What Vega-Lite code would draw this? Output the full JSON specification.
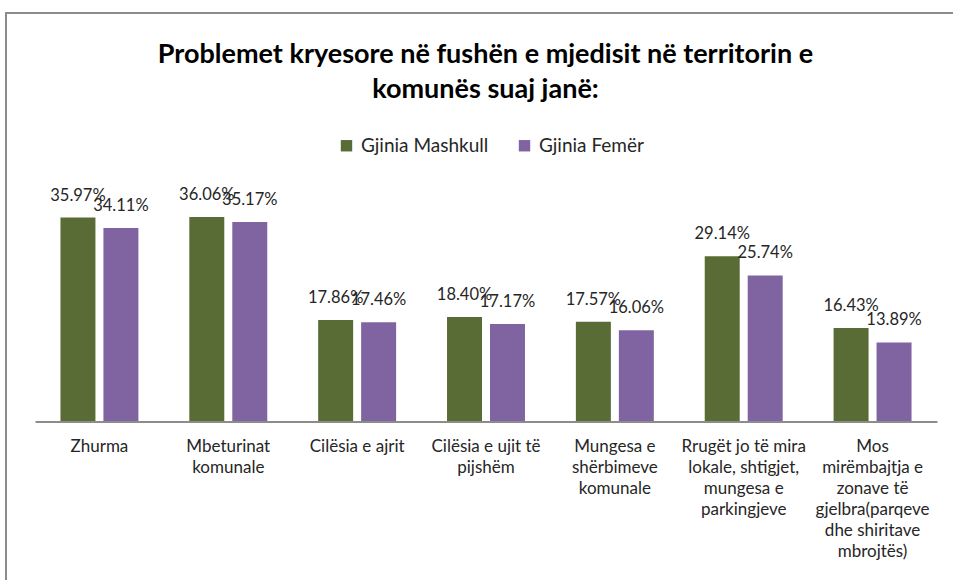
{
  "$schema": "https://vega.github.io/schema/vega-lite/v6.json",
  "autosize": {"type": "none"},
  "width": 951,
  "height": 571,
  "padding": {"left": 6, "top": 13, "right": -4, "bottom": -4},
  "background": "#ffffff",
  "title": {
    "text": ["Problemet kryesore në fushën e mjedisit në territorin e", "komunës suaj janë:"],
    "font": "Lato",
    "fontSize": 27,
    "fontWeight": "bold",
    "color": "#000000",
    "lineHeight": 35,
    "anchor": "middle",
    "offset": -91,
    "dx": 4
  },
  "data": {
    "values": [
      {"cat": "Zhurma", "gender": "Gjinia Mashkull", "value": 0.3597},
      {"cat": "Zhurma", "gender": "Gjinia Femër", "value": 0.3411},
      {"cat": "Mbeturinat\nkomunale", "gender": "Gjinia Mashkull", "value": 0.3606},
      {"cat": "Mbeturinat\nkomunale", "gender": "Gjinia Femër", "value": 0.3517},
      {"cat": "Cilësia e ajrit", "gender": "Gjinia Mashkull", "value": 0.1786},
      {"cat": "Cilësia e ajrit", "gender": "Gjinia Femër", "value": 0.1746},
      {"cat": "Cilësia e ujit të\npijshëm", "gender": "Gjinia Mashkull", "value": 0.1840},
      {"cat": "Cilësia e ujit të\npijshëm", "gender": "Gjinia Femër", "value": 0.1717},
      {"cat": "Mungesa e\nshërbimeve\nkomunale", "gender": "Gjinia Mashkull", "value": 0.1757},
      {"cat": "Mungesa e\nshërbimeve\nkomunale", "gender": "Gjinia Femër", "value": 0.1606},
      {"cat": "Rrugët jo të mira\nlokale, shtigjet,\nmungesa e\nparkingjeve", "gender": "Gjinia Mashkull", "value": 0.2914},
      {"cat": "Rrugët jo të mira\nlokale, shtigjet,\nmungesa e\nparkingjeve", "gender": "Gjinia Femër", "value": 0.2574},
      {"cat": "Mos\nmirëmbajtja e\nzonave të\ngjelbra(parqeve\ndhe shiritave\nmbrojtës)", "gender": "Gjinia Mashkull", "value": 0.1643},
      {"cat": "Mos\nmirëmbajtja e\nzonave të\ngjelbra(parqeve\ndhe shiritave\nmbrojtës)", "gender": "Gjinia Femër", "value": 0.1389}
    ]
  },
  "encoding": {
    "x": {
      "field": "cat",
      "type": "nominal",
      "sort": null,
      "scale": {"type": "band", "range": [29, 931], "paddingInner": 0.395, "paddingOuter": 0.1975},
      "axis": {
        "title": null,
        "orient": "bottom",
        "offset": -162.5,
        "labelExpr": "split(datum.value, '\\n')",
        "labelAngle": 0,
        "labelFont": "Lato",
        "labelFontSize": 17,
        "labelColor": "#262626",
        "labelLineHeight": 21,
        "labelBaseline": "top",
        "labelPadding": 17,
        "labelLimit": 0,
        "labelOverlap": false,
        "labelBound": false,
        "ticks": false,
        "grid": false,
        "domainColor": "#8c8c8c",
        "domainWidth": 2
      }
    },
    "xOffset": {
      "field": "gender",
      "type": "nominal",
      "sort": ["Gjinia Mashkull", "Gjinia Femër"],
      "scale": {"paddingInner": 0.186, "paddingOuter": 0}
    },
    "y": {
      "field": "value",
      "type": "quantitative",
      "scale": {"domain": [0, 0.7215], "range": [408, 0], "nice": false, "zero": true},
      "axis": null
    }
  },
  "layer": [
    {
      "mark": {"type": "bar"},
      "encoding": {
        "color": {
          "field": "gender",
          "type": "nominal",
          "sort": ["Gjinia Mashkull", "Gjinia Femër"],
          "scale": {"domain": ["Gjinia Mashkull", "Gjinia Femër"], "range": ["#5a6c35", "#8064a2"]},
          "legend": {
            "title": null,
            "orient": "none",
            "direction": "horizontal",
            "legendX": 331,
            "legendY": 123,
            "symbolType": "square",
            "symbolSize": 130,
            "symbolStrokeWidth": 0,
            "labelFont": "Lato",
            "labelFontSize": 19,
            "labelColor": "#262626",
            "labelOffset": 5,
            "columnPadding": 26,
            "padding": 0
          }
        }
      }
    },
    {
      "mark": {"type": "text", "baseline": "alphabetic", "dy": -17, "font": "Lato", "fontSize": 16.5, "color": "#262626"},
      "encoding": {
        "text": {"field": "value", "type": "quantitative", "format": ".2%"}
      }
    }
  ],
  "config": {
    "view": {"stroke": "#8c8c8c", "strokeWidth": 2}
  }
}
